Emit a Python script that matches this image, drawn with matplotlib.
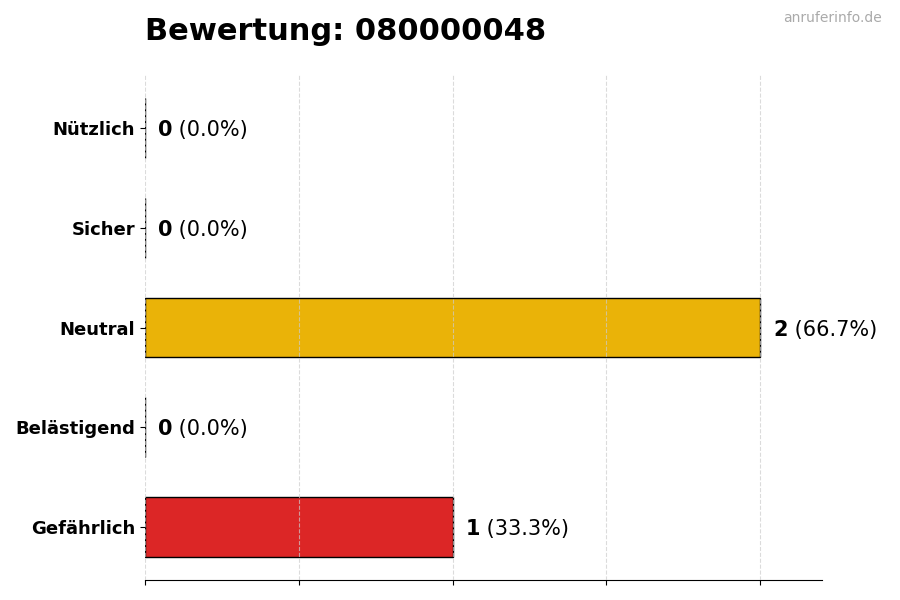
import matplotlib.pyplot as plt

categories = ["Gefährlich", "Belästigend", "Neutral", "Sicher", "Nützlich"]
counts = [1, 0, 2, 0, 0]
colors = ["#dc2626", "#f97316", "#eab308", "#22c55e", "#3b82f6"]
title = "Bewertung: 080000048"

total = sum(counts)

fig = plt.figure(figsize=(9, 6), dpi=100)
ax = fig.add_axes([0.161, 0.0333, 0.752, 0.8417])

bars = ax.barh(categories, counts, height=0.6, color=colors,
               edgecolor="black", linewidth=1)
ax.set_xlim(0, 2.2)

for bar, c in zip(bars, counts):
    y = bar.get_y() + bar.get_height() / 2
    pct = c / total * 100
    t = ax.text(c + 0.042, y, f"{c}", va="center_baseline", ha="left",
                fontsize=15, fontweight="bold")
    ax.annotate(f" ({pct:.1f}%)", xy=(1, 0), xycoords=t,
                va="bottom", ha="left", fontsize=15)

ax.set_xticks([0, 0.5, 1, 1.5, 2])
ax.set_xticklabels([])
ax.grid(axis="x", linestyle="--", color="#cccccc", linewidth=0.8, alpha=0.7)
ax.set_axisbelow(False)
for s in ["top", "right", "left"]:
    ax.spines[s].set_visible(False)
for lbl in ax.get_yticklabels():
    lbl.set_fontweight("bold")
    lbl.set_fontsize(13)

fig.text(0.161, 0.947, title, fontsize=22, fontweight="bold", ha="left", va="center")
fig.text(0.98, 0.97, "anruferinfo.de", fontsize=10, color="#aaaaaa",
         ha="right", va="center")

fig.savefig("out.png", dpi=100)
